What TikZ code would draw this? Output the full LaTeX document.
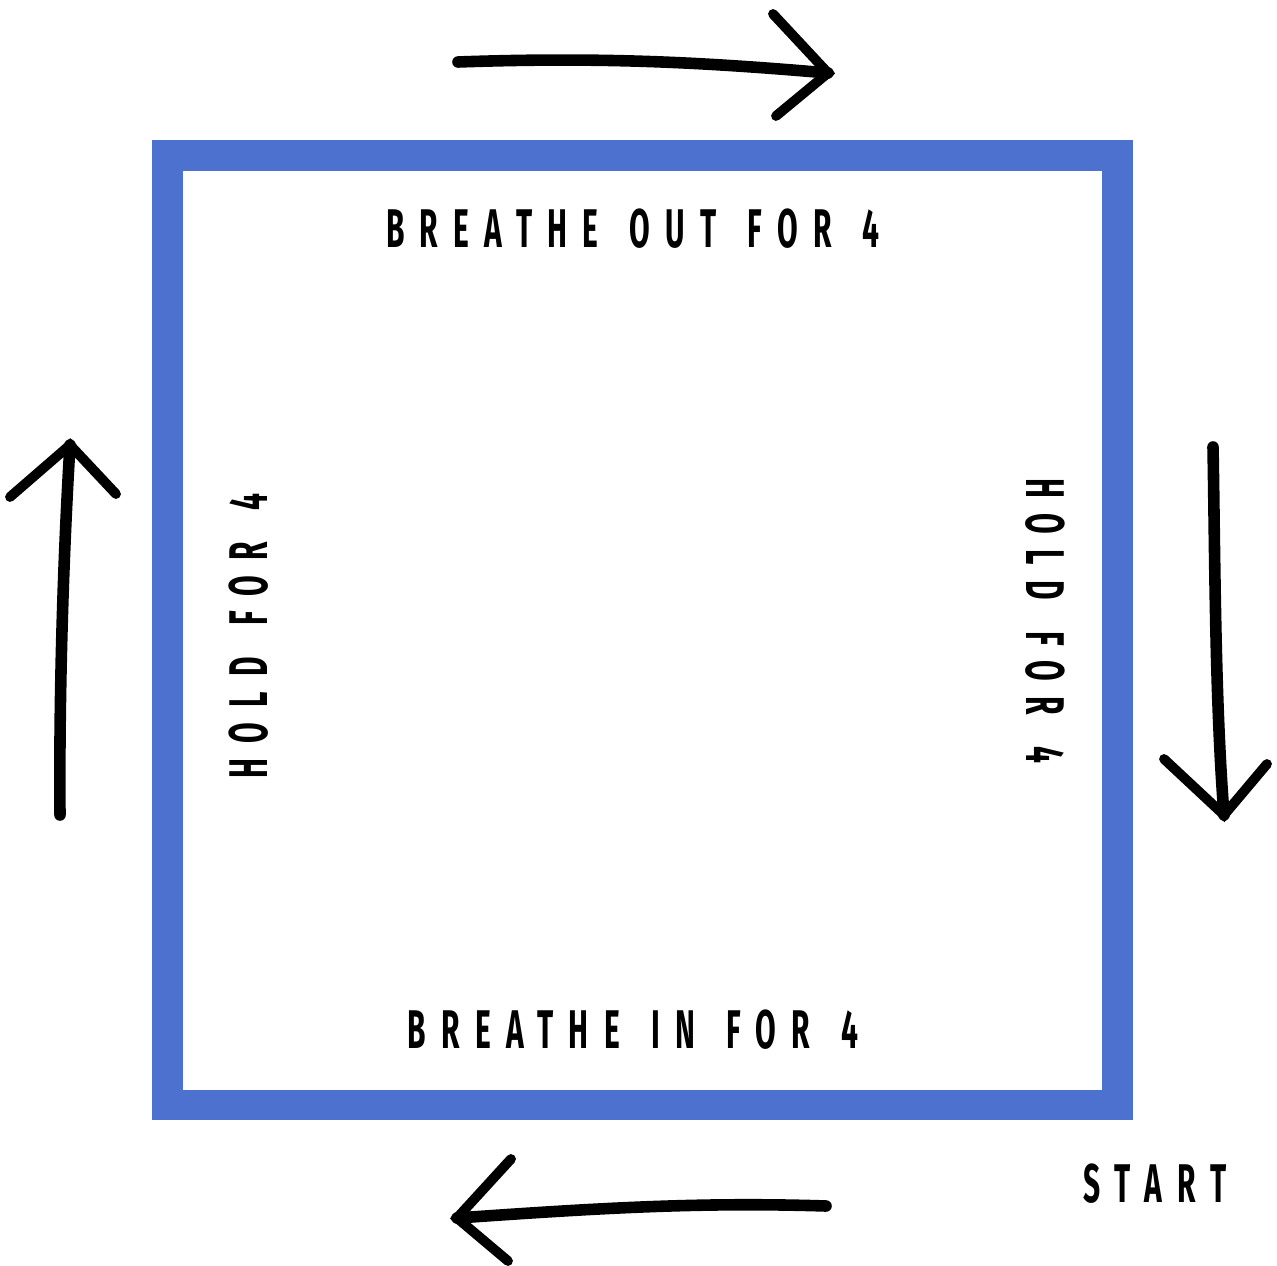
\documentclass[tikz,border=0pt]{standalone}
\usepackage{fontspec}
\newfontfamily\handfont{Fira Sans}[FakeStretch=0.55,LetterSpace=28,WordSpace=1.4]
\usepackage{xcolor}
\definecolor{boxblue}{HTML}{4C71CF}
\usepackage{tikz}
\usetikzlibrary{positioning,calc}

\tikzset{
  brush/.style={line width=6.6pt,line cap=round,line join=round,black},
  barb/.style={line width=5.6pt,line cap=round,black},
  steptext/.style={font=\handfont\bfseries\fontsize{31}{31}\selectfont,inner sep=0pt}
}

\begin{document}
\begin{tikzpicture}[x=0.02cm,y=-0.02cm]
    \useasboundingbox (0,0) rectangle (1277,1266);
    % the square
    \draw[boxblue,line width=31*0.567pt] (167.5,155.5) rectangle (1117.5,1105);
    % texts
    \node[steptext] (out) at (633,229) {BREATHE OUT FOR 4};
    \node[steptext] (in) at (633,1030) {BREATHE IN FOR 4};
    \node[steptext,rotate=90] (holdl) at (249,636) {HOLD FOR 4};
    \node[steptext,rotate=-90] (holdr) at (1045,621) {HOLD FOR 4};
    \node[steptext] (start) at (1155,1184) {START};
    % arrows
    \coordinate (ta) at (458,62);   \coordinate (tb) at (828,73);
    \coordinate (ra) at (1213,447); \coordinate (rb) at (1224,815);
    \coordinate (ba) at (826,1206); \coordinate (bb) at (457,1218);
    \coordinate (la) at (60,815);   \coordinate (lb) at (70,445);
    \draw[brush] (ta) .. controls (600,57) and (700,62) .. (tb);
    \draw[barb] (773,14) -- (tb) -- (776,116);
    \draw[brush] (ra) .. controls (1215,560) and (1215,700) .. (rb);
    \draw[barb] (1164,759) -- (rb) -- (1267,764);
    \draw[brush] (ba) .. controls (700,1202) and (600,1208) .. (bb);
    \draw[barb] (511,1159) -- (bb) -- (508,1261);
    \draw[brush] (la) .. controls (59,700) and (63,560) .. (lb);
    \draw[barb] (10,497) -- (lb) -- (116,494);
\end{tikzpicture}
\end{document}
